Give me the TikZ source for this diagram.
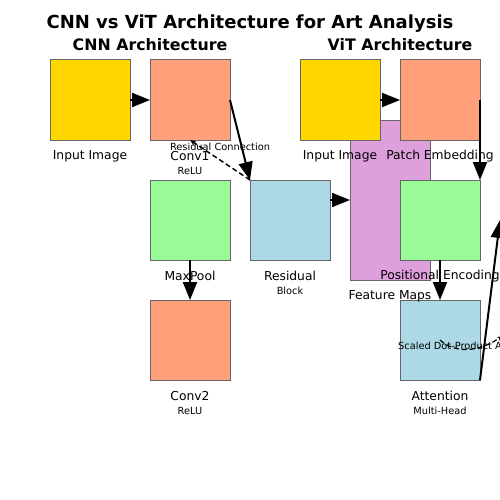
\documentclass[tikz,border=0pt]{standalone}
\usepackage{fontspec}
\setmainfont{DejaVu Sans}
\usetikzlibrary{arrows.meta}
\definecolor{gold}{HTML}{FFD700}
\definecolor{salmonc}{HTML}{FFA07A}
\definecolor{greenc}{HTML}{98FB98}
\definecolor{bluec}{HTML}{ADD8E6}
\definecolor{plumc}{HTML}{DDA0DD}
\definecolor{edgec}{HTML}{666666}
\tikzset{
  blk/.style={draw=edgec,line width=1pt,minimum width=80pt,minimum height=80pt,inner sep=0pt,outer sep=0pt,anchor=north west},
  lbl/.style={font=\fontsize{12.3}{13}\selectfont,inner sep=0pt},
  sub/.style={font=\fontsize{9.8}{10}\selectfont,inner sep=0pt},
  arr/.style={line width=2pt,-{Triangle[length=18pt,width=14pt]}},
  ttl/.style={font=\bfseries\fontsize{18}{20}\selectfont,inner sep=0pt},
  hdr/.style={font=\bfseries\fontsize{15.8}{17}\selectfont,inner sep=0pt},
  dsh/.style={dash pattern=on 5pt off 3pt,line width=1.5pt},
}
\begin{document}
\begin{tikzpicture}[x=1pt,y=-1pt]
\useasboundingbox (0,0) rectangle (500,500);
\node[ttl] (title) at (250,24) {CNN vs ViT Architecture for Art Analysis};
\node[hdr] (hcnn) at (150,45) {CNN Architecture};
\node[hdr] (hvit) at (400,45) {ViT Architecture};
% feature maps below others
\node[blk,fill=plumc,minimum height=160pt] (fm) at (350,120) {};
% CNN
\node[blk,fill=gold] (in1) at (50,60) {};
\node[blk,fill=salmonc] (conv1) at (150,60) {};
\node[blk,fill=greenc] (mp) at (150,180) {};
\node[blk,fill=bluec] (res) at (250,180) {};
\node[blk,fill=salmonc] (conv2) at (150,300) {};
% ViT
\node[blk,fill=gold] (in2) at (300,60) {};
\node[blk,fill=salmonc] (pe) at (400,60) {};
\node[blk,fill=greenc] (pos) at (400,180) {};
\node[blk,fill=bluec] (att) at (400,300) {};
\node[blk,fill=white] (nxt) at (500,180) {};
% labels
\node[lbl] (l1) at (90,156) {Input Image};
\node[lbl] (l2) at (190,156) {Conv1};
\node[sub] (l2s) at (190,171) {ReLU};
\node[lbl] (l3) at (190,276) {MaxPool};
\node[lbl] (l4) at (290,276) {Residual};
\node[sub] (l4s) at (290,291) {Block};
\node[lbl] (l5) at (190,396) {Conv2};
\node[sub] (l5s) at (190,411) {ReLU};
\node[lbl] (l6) at (390,296) {Feature Maps};
\node[lbl] (l7) at (340,156) {Input Image};
\node[lbl] (l8) at (440,156) {Patch Embedding};
\node[lbl] (l9) at (440,276) {Positional Encoding};
\node[lbl] (l10) at (440,396) {Attention};
\node[sub] (l10s) at (440,411) {Multi-Head};
% arrows
\path (res.north east) ++(0,20) coordinate (ra);
\draw[arr] (in1.east) -- (conv1.west);
\draw[arr] (conv1.east) -- (res.north west);
\draw[arr] (mp.south) -- (conv2.north);
\draw[arr] (ra) -- (ra -| fm.west);
\draw[arr] (in2.east) -- (pe.west);
\draw[arr] (pe.east) -- (pos.north east);
\draw[arr] (pos.south) -- (att.north);
\draw[arr] (att.south east) -- (nxt.west);
% dashed
\draw[dsh,-{Stealth[length=6pt,width=5pt]}] (res.north west) -- (conv1.south);
\node[sub] (rc) at (220,147) {Residual Connection};
\draw[dsh,line width=1.2pt,-{Stealth[length=5pt,width=4pt]}] (att.center) .. controls (455,354) and (480,352) .. (502,336);
\node[sub,anchor=west] (sdp) at (398,346) {Scaled Dot-Product Attention};
\end{tikzpicture}
\end{document}
